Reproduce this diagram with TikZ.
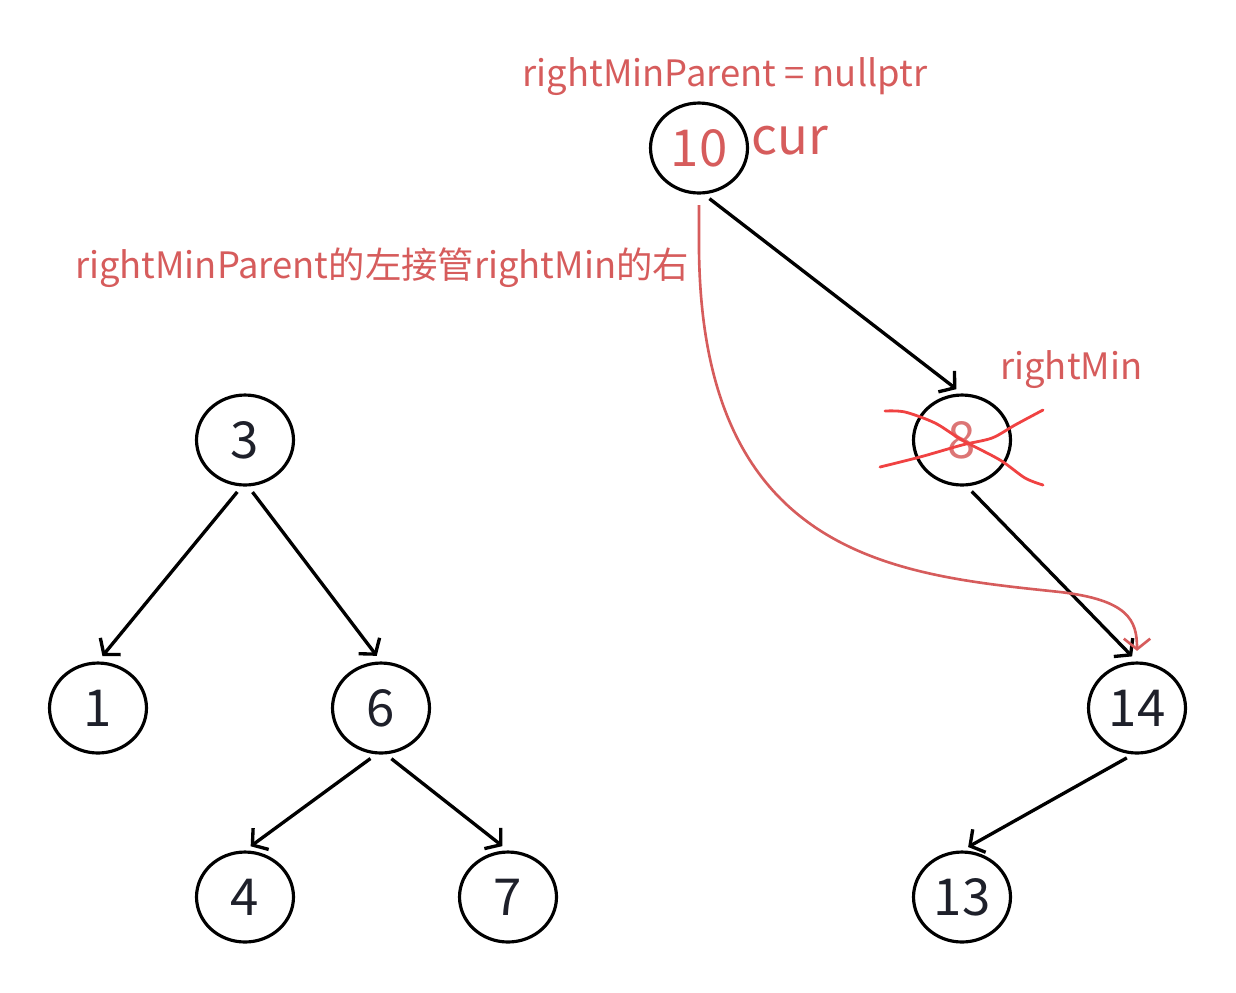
\documentclass[tikz,border=0pt]{standalone}
\usepackage{fontspec}
\setmainfont{Noto Sans CJK SC}
\usepackage{tikz}
\usetikzlibrary{arrows.meta,shapes.geometric}
\definecolor{labred}{RGB}{214,92,92}
\definecolor{crossred}{RGB}{240,66,66}
\definecolor{digit}{RGB}{30,32,42}
\tikzset{
    knoten/.style={
           ellipse,
           draw=black, line width=1.8pt,
           minimum width=1.94cm,
           minimum height=1.8cm,
           inner sep=0pt,
           text=digit,
           font=\fontsize{29}{30}\selectfont},
    marque/.style={
           text=labred, inner sep=0pt,
           font=\fontsize{20.7}{22}\selectfont},
    kante/.style={
           ->, black, line width=1.9pt,
           shorten <=4pt, shorten >=4pt},
    >={Straight Barb[length=6pt,width=15pt]}
    }
\begin{document}
\begin{tikzpicture}[x=0.02cm,y=-0.02cm]
      \useasboundingbox (0,0) rectangle (1236,992);
      % linker Baum
      \node[knoten] (3) at (245,440) {3};
      \node[knoten] (1) at (98,708) {1};
      \node[knoten] (6) at (381,708) {6};
      \node[knoten] (4) at (245,897) {4};
      \node[knoten] (7) at (508,897) {7};
      % rechter Baum
      \node[knoten,text=labred] (10) at (699,148) {10};
      \node[knoten,text=labred!85] (8) at (962,440) {8};
      \node[knoten] (14) at (1137,708) {14};
      \node[knoten] (13) at (962,897) {13};
      % Beschriftungen
      \node[marque] (rmp) at (725,77) {rightMinParent = nullptr};
      \node[marque,font=\fontsize{29}{30}\selectfont,anchor=west] (cur) at (751,141) {cur};
      \node[marque] (links) at (382,268) {rightMinParent的左接管rightMin的右};
      \node[marque,anchor=west] (rmin) at (1000,370) {rightMin};
      \draw[kante] (3.266) -- (1.north);
      \draw[kante] (3.274) -- (6.north);
      \draw[kante] (6.264) -- (4.north);
      \draw[kante] (6.276) -- (7.north);
      \draw[kante] (10.276) -- (8.north);
      \draw[kante] (8.276) -- (14.north);
      \draw[kante] (14.265) -- (13.north);
      \draw[->,labred,line width=1.5pt,shorten <=6pt,shorten >=6pt]
        (10.south) -- (699,250) .. controls (702,560) and (900,575) .. (1060,592)
        .. controls (1128,600) and (1137,620) .. (14.north);
      % Kreuz
      \draw[crossred,line width=1.6pt,line cap=round] plot[smooth] coordinates
        {(885,411) (905,412) (935,423) (962,440) (1000,460) (1025,478) (1043,485)};
      \draw[crossred,line width=1.6pt,line cap=round] plot[smooth] coordinates
        {(880,467) (920,457) (962,445) (992,438) (1015,425) (1043,410)};
\end{tikzpicture}
\end{document}
